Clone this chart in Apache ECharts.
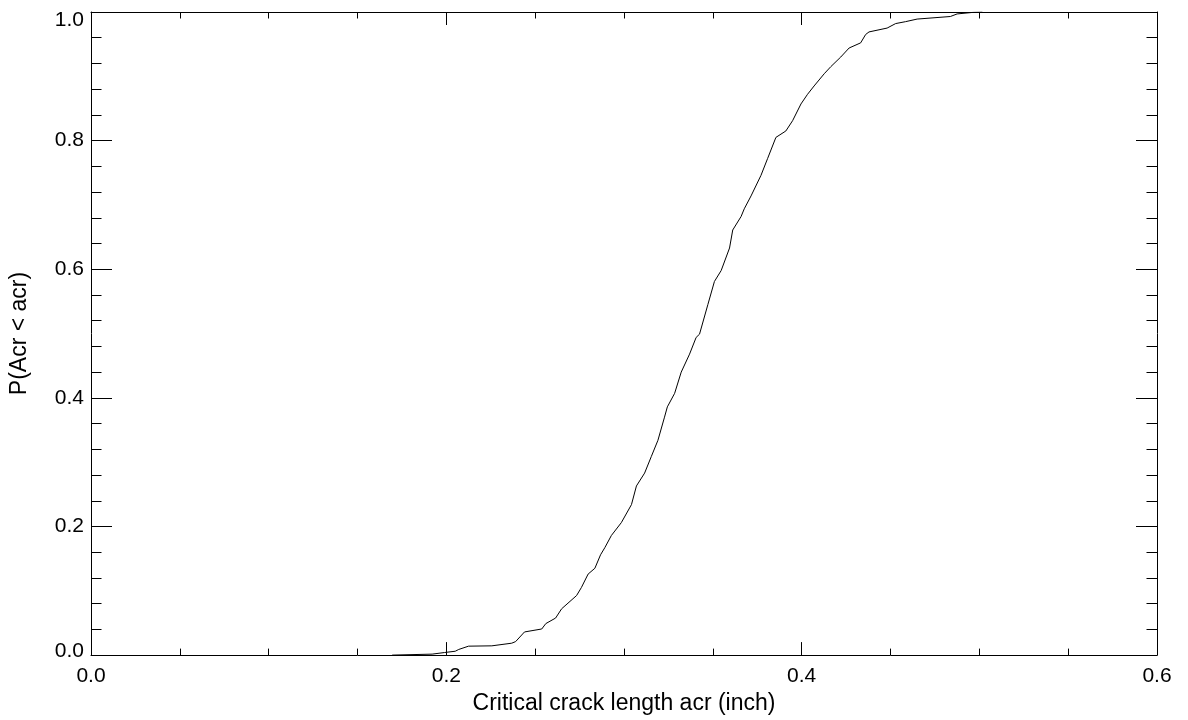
<!DOCTYPE html>
<html>
<head>
<meta charset="utf-8">
<script src="https://cdn.jsdelivr.net/npm/echarts@6/dist/echarts.min.js"></script>
<style>html,body{margin:0;padding:0;background:#fff;}#c{width:1188px;height:720px;}</style>
</head>
<body>
<div id="c"></div>
<script>
const crackLength = [0.1695,0.192,0.199,0.205,0.207,0.2125,0.2256,0.2368,0.239,0.244,0.2537,0.256,0.2615,0.2649,0.2733,0.276,0.2798,0.2836,0.2868,0.2892,0.2929,0.2985,0.3042,0.307,0.3116,0.3154,0.3191,0.3228,0.3244,0.3285,0.3322,0.3369,0.3406,0.3425,0.3472,0.3509,0.3547,0.3594,0.3612,0.3659,0.3677,0.3715,0.3771,0.3808,0.3855,0.3911,0.3949,0.3996,0.4033,0.407,0.4127,0.4164,0.422,0.4267,0.4332,0.436,0.4379,0.4481,0.4529,0.4585,0.465,0.4837,0.4875,0.4968,0.5017];
const probability = [0.0,0.0015,0.004,0.006,0.0088,0.0139,0.0144,0.0185,0.021,0.036,0.0406,0.049,0.0576,0.072,0.0926,0.105,0.126,0.135,0.156,0.167,0.186,0.206,0.234,0.263,0.283,0.309,0.334,0.37,0.386,0.407,0.44,0.468,0.494,0.499,0.545,0.581,0.598,0.633,0.661,0.682,0.694,0.714,0.746,0.772,0.805,0.815,0.831,0.857,0.872,0.885,0.904,0.915,0.93,0.944,0.952,0.965,0.969,0.975,0.982,0.985,0.989,0.993,0.997,0.9995,1.0];
const xTicks = [0.0, 0.2, 0.4, 0.6];
const yTicks = [0.0, 0.2, 0.4, 0.6, 0.8, 1.0];

const font = 'Liberation Sans, Arial, Helvetica, sans-serif';
const lineStyle = {color:'#000', width:1};
const chart = echarts.init(document.getElementById('c'));
const data = crackLength.map((x,i)=>[x, probability[i]]);
function xAx(show, pos){
  return {
    type:'value', position:pos, min:xTicks[0], max:xTicks[xTicks.length-1], interval:0.2,
    axisLine:{show:true, onZero:false, lineStyle},
    axisTick:{show:true, inside:true, length:13, lineStyle},
    minorTick:{show:true, splitNumber:4, length:6.5, lineStyle},
    splitLine:{show:false},
    axisLabel:{show:show, color:'#000', fontFamily:font, fontSize:21, margin:11, formatter:v=>v.toFixed(1)},
    name: show ? 'Critical crack length acr (inch)' : '',
    nameLocation:'middle', nameGap:30,
    nameTextStyle:{color:'#000', fontFamily:font, fontSize:23}
  };
}
function yAx(show, pos){
  const yMin = yTicks[0], yMax = yTicks[yTicks.length-1];
  return {
    type:'value', position:pos, min:yMin, max:yMax, interval:0.2,
    axisLine:{show:true, onZero:false, lineStyle},
    axisTick:{show:true, inside:true, length:21, lineStyle},
    minorTick:{show:true, splitNumber:5, length:10.5, lineStyle},
    splitLine:{show:false},
    axisLabel:{show:show, color:'#000', fontFamily:font, fontSize:21, margin:7,
      formatter:v=>{
        const s = v.toFixed(1);
        if (Math.abs(v-yMax) < 1e-9) return '{hi|'+s+'}';
        if (Math.abs(v-yMin) < 1e-9) return '{lo|'+s+'}';
        return s;
      },
      rich:{
        hi:{color:'#000', fontFamily:font, fontSize:21, padding:[16,0,0,0]},
        lo:{color:'#000', fontFamily:font, fontSize:21, padding:[0,0,8,0]}
      }
    },
    name: show ? 'P(Acr < acr)' : '',
    nameLocation:'middle', nameGap:60,
    nameTextStyle:{color:'#000', fontFamily:font, fontSize:23}
  };
}
chart.setOption({
  backgroundColor:'#fff',
  animation:false,
  grid:{left:88, right:31, top:12, bottom:60, containLabel:false},
  xAxis:[xAx(true,'bottom'), xAx(false,'top')],
  yAxis:[yAx(true,'left'), yAx(false,'right')],
  series:[{
    type:'line', data:data, xAxisIndex:0, yAxisIndex:0,
    showSymbol:false, symbol:'none', smooth:false,
    lineStyle:{color:'#000', width:1}
  }]
});
</script>
</body>
</html>
